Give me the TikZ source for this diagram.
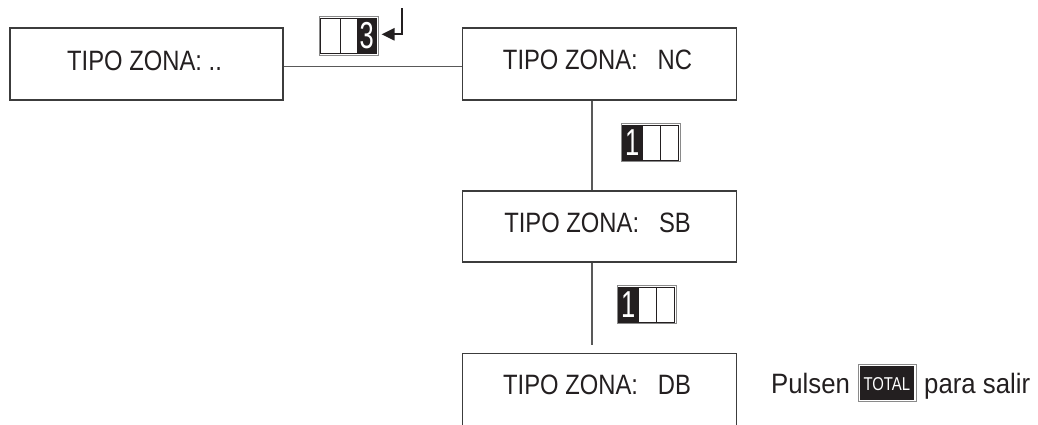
\documentclass[tikz,border=0pt]{standalone}
\usepackage{fontspec}
\usetikzlibrary{arrows.meta}
\newfontfamily\boxfont[FakeStretch=0.85]{Liberation Sans}
\newfontfamily\pulsefont[FakeStretch=0.92]{Liberation Sans}
\newfontfamily\keyfont[FakeStretch=0.8]{Liberation Sans}
\newfontfamily\digitfont[FakeStretch=0.68]{Liberation Sans}
\definecolor{ink}{HTML}{231F20}
\definecolor{frame}{HTML}{3C3C3C}
\definecolor{keygray}{HTML}{8A8A8A}
\tikzset{
  zbox/.style={draw=frame, line width=1.3pt, rectangle, minimum width=273pt, minimum height=72pt, inner sep=0pt},
  ztext/.style={anchor=base, inner sep=0pt, text=ink, font=\boxfont\fontsize{28}{30}\selectfont},
  conn/.style={draw=frame!85, line width=1.4pt},
  keyouter/.style={draw=keygray, line width=0.8pt},
  keyinner/.style={draw=ink, line width=0.8pt},
  digit/.style={inner sep=0pt, text=white, font=\digitfont\fontsize{37.5}{38}\selectfont},
  keyL/.pic={
    \draw[keyouter] (0,0) rectangle (59.5,38.5);
    \fill[ink] (1.7,1.7) rectangle (21.5,36.8);
    \draw[keyinner] (1.7,1.7) rectangle (57.8,36.8);
    \draw[keyinner] (21.5,1.7) -- (21.5,36.8);
    \draw[keyinner] (39.2,1.7) -- (39.2,36.8);
    \node[digit] at (11.2,19.3) {1};
  },
  keyR/.pic={
    \draw[keyouter] (0,0) rectangle (59.5,38.5);
    \fill[ink] (37.9,1.7) rectangle (57.8,36.8);
    \draw[keyinner] (1.7,1.7) rectangle (57.8,36.8);
    \draw[keyinner] (21,1.7) -- (21,36.8);
    \draw[keyinner] (37.9,1.7) -- (37.9,36.8);
    \node[digit] at (47.8,19.3) {3};
  }
}
\begin{document}
\begin{tikzpicture}[x=1pt,y=-1pt]
\useasboundingbox (0,0) rectangle (1038,424);
% boxes
\node[zbox] (b1) at (146.5,64) {};
\node[zbox, minimum width=273.5pt] (b2) at (599.5,64) {};
\node[zbox, minimum width=274pt, minimum height=71pt] (b3) at (599.3,226.5) {};
\node[zbox, minimum width=274pt, minimum height=80pt] (b4) at (599.3,393.5) {};
% texts
\node[ztext] (t1) at (144.5,70) {TIPO ZONA: ..};
\node[ztext] (t2) at (597.5,69.3) {TIPO ZONA:\ \ \ NC};
\node[ztext] (t3) at (597.5,232.3) {TIPO ZONA:\ \ \ SB};
\node[ztext] (t4) at (597,394.3) {TIPO ZONA:\ \ \ DB};
% connectors
\draw[conn] ([yshift=-2.5pt]b1.east) -- ([yshift=-2.5pt]b2.west);
\draw[conn] ([xshift=-7.5pt]b2.south) -- ([xshift=-7.3pt]b3.north);
\coordinate (gapend) at (592,345);
\draw[conn] ([xshift=-7.3pt]b3.south) -- (gapend);
% key icons
\pic at (319,16.5) {keyR};
\pic at (621,123.3) {keyL};
\pic at (617,285.2) {keyL};
% enter arrow
\coordinate (entA) at (402,8);
\coordinate (entB) at (402,34.3);
\coordinate (entC) at (381.5,34.3);
\draw[draw=ink, line width=2.2pt, -{Triangle[length=13pt, width=12pt]}] (entA) -- (entB) -- (entC);
% exit instruction
\node[anchor=base west, inner sep=0pt, text=ink, font=\pulsefont\fontsize{28}{30}\selectfont] (pul) at (771,393) {Pulsen};
\draw[keygray, line width=0.8pt] (858,364.7) rectangle (916.7,401.3);
\node[fill=ink, minimum width=54.3pt, minimum height=33.4pt, inner sep=0pt] (tot) at (887.2,383) {};
\node[anchor=base, inner sep=0pt, text=white, font=\keyfont\fontsize{18.6}{19}\selectfont] (totx) at (886.8,390.3) {TOTAL};
\node[anchor=base west, inner sep=0pt, text=ink, font=\pulsefont\fontsize{28}{30}\selectfont] (sal) at (924,393) {para salir};
\end{tikzpicture}
\end{document}
